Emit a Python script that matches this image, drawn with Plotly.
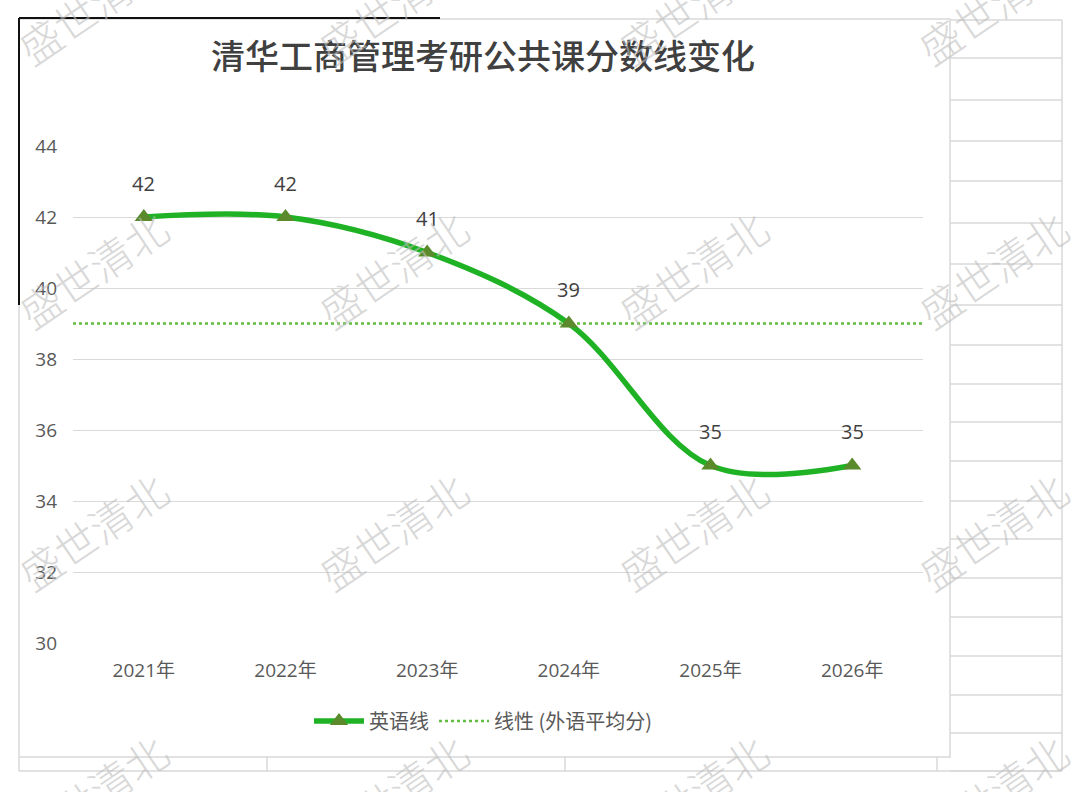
import plotly.graph_objects as go

# ---- data ----
years = ["2021年", "2022年", "2023年", "2024年", "2025年", "2026年"]
english_scores = [42, 42, 41, 39, 35, 35]
foreign_avg = [39, 39]
y_ticks = [30, 32, 34, 36, 38, 40, 42, 44]
title_text = "清华工商管理考研公共课分数线变化"
series_names = ["英语线", "线性 (外语平均分)"]
watermark = "盛世清北"

W, H = 1080, 792
FONT = "Open Sans, Noto Sans CJK SC, sans-serif"
CJK = "Noto Sans CJK SC, sans-serif"

def px(x):
    return x / W

def py(y):
    return 1 - y / H

x_idx = list(range(len(years)))

fig = go.Figure()

fig.add_trace(go.Scatter(
    x=x_idx, y=english_scores, mode="lines+markers", name=series_names[0],
    line=dict(color="#1FB224", width=5.5, shape="spline", smoothing=1.0),
    marker=dict(symbol="triangle-up", size=16, color="#5A8A2B",
                line=dict(width=0)),
))

# trendline (constant average)
fig.add_trace(go.Scatter(
    x=[x_idx[0] - 0.5, x_idx[-1] + 0.5], y=foreign_avg,
    mode="lines", name=series_names[1],
    line=dict(color="#62BD3F", width=2.5, dash="dot"),
    hoverinfo="skip",
))
# draw trendline under main series
fig.data = (fig.data[1], fig.data[0])

annotations = []
for i, v in zip(x_idx, english_scores):
    annotations.append(dict(
        x=i, y=v, xref="x", yref="y", text=str(v), showarrow=False,
        yshift=34, font=dict(family=FONT, size=20, color="#404040"),
    ))

# watermarks
for cy in [5, 268, 530, 792]:
    for cx in [92, 392, 692, 992]:
        annotations.append(dict(
            x=px(cx), y=py(cy), xref="paper", yref="paper",
            text=watermark, showarrow=False, textangle=-34,
            font=dict(family=CJK, size=42, color="rgba(190,190,190,0.6)",
                      weight=300),
            xanchor="center", yanchor="middle",
        ))

shapes = []
grid_col = "#D9D9D9"
shapes.append(dict(type="rect", xref="paper", yref="paper",
                   x0=px(19), x1=px(950), y0=py(757), y1=py(19),
                   line=dict(color=grid_col, width=1.5), layer="below"))
rows = [20, 58, 100, 141, 181, 223, 264, 305, 345, 384, 422, 461, 501,
        539, 578, 617, 656, 695, 733, 771]
for r in rows:
    shapes.append(dict(type="line", xref="paper", yref="paper",
                       x0=px(950), x1=px(1062), y0=py(r), y1=py(r),
                       line=dict(color=grid_col, width=1.5), layer="below"))
shapes.append(dict(type="line", xref="paper", yref="paper",
                   x0=px(1062), x1=px(1062), y0=py(20), y1=py(771),
                   line=dict(color=grid_col, width=1.5), layer="below"))
shapes.append(dict(type="line", xref="paper", yref="paper",
                   x0=px(19), x1=px(1062), y0=py(771), y1=py(771),
                   line=dict(color=grid_col, width=1.5), layer="below"))
for vx in [19, 267, 565, 937]:
    shapes.append(dict(type="line", xref="paper", yref="paper",
                       x0=px(vx), x1=px(vx), y0=py(757), y1=py(771),
                       line=dict(color=grid_col, width=1.5), layer="below"))
shapes.append(dict(type="line", xref="paper", yref="paper",
                   x0=px(19), x1=px(440), y0=py(18), y1=py(18),
                   line=dict(color="#111111", width=2)))
shapes.append(dict(type="line", xref="paper", yref="paper",
                   x0=px(19), x1=px(19), y0=py(18), y1=py(305),
                   line=dict(color="#111111", width=2)))

fig.update_layout(
    width=W, height=H,
    margin=dict(l=0, r=0, t=0, b=0, autoexpand=False),
    paper_bgcolor="white", plot_bgcolor="white",
    title=dict(text=title_text, x=px(483), y=py(57), xref="paper", yref="paper",
               xanchor="center", yanchor="middle",
               font=dict(family=CJK, size=34, color="#404040", weight=500)),
    xaxis=dict(domain=[px(73), px(923)], range=[-0.5, len(years) - 0.5],
               tickvals=x_idx, ticktext=years, showgrid=False, zeroline=False,
               showline=False, ticks="", ticklabelstandoff=14, automargin=False,
               tickfont=dict(family=FONT, size=19, color="#595959"),
               fixedrange=True),
    yaxis=dict(domain=[py(643), py(146)], range=[30, 44], tickvals=y_ticks,
               showgrid=True, gridcolor=grid_col, gridwidth=1.3,
               zeroline=False, showline=False, ticks="", automargin=False,
               ticklabelstandoff=15,
               tickfont=dict(family=FONT, size=19, color="#595959"),
               fixedrange=True),
    showlegend=True,
    legend=dict(orientation="h", x=px(483), y=py(721), xanchor="center",
                yanchor="middle", font=dict(family=CJK, size=20, color="#595959"),
                bgcolor="rgba(0,0,0,0)", traceorder="reversed",
                itemwidth=50, entrywidthmode="pixels"),
    annotations=annotations,
    shapes=shapes,
)

fig.write_html("out.html")
